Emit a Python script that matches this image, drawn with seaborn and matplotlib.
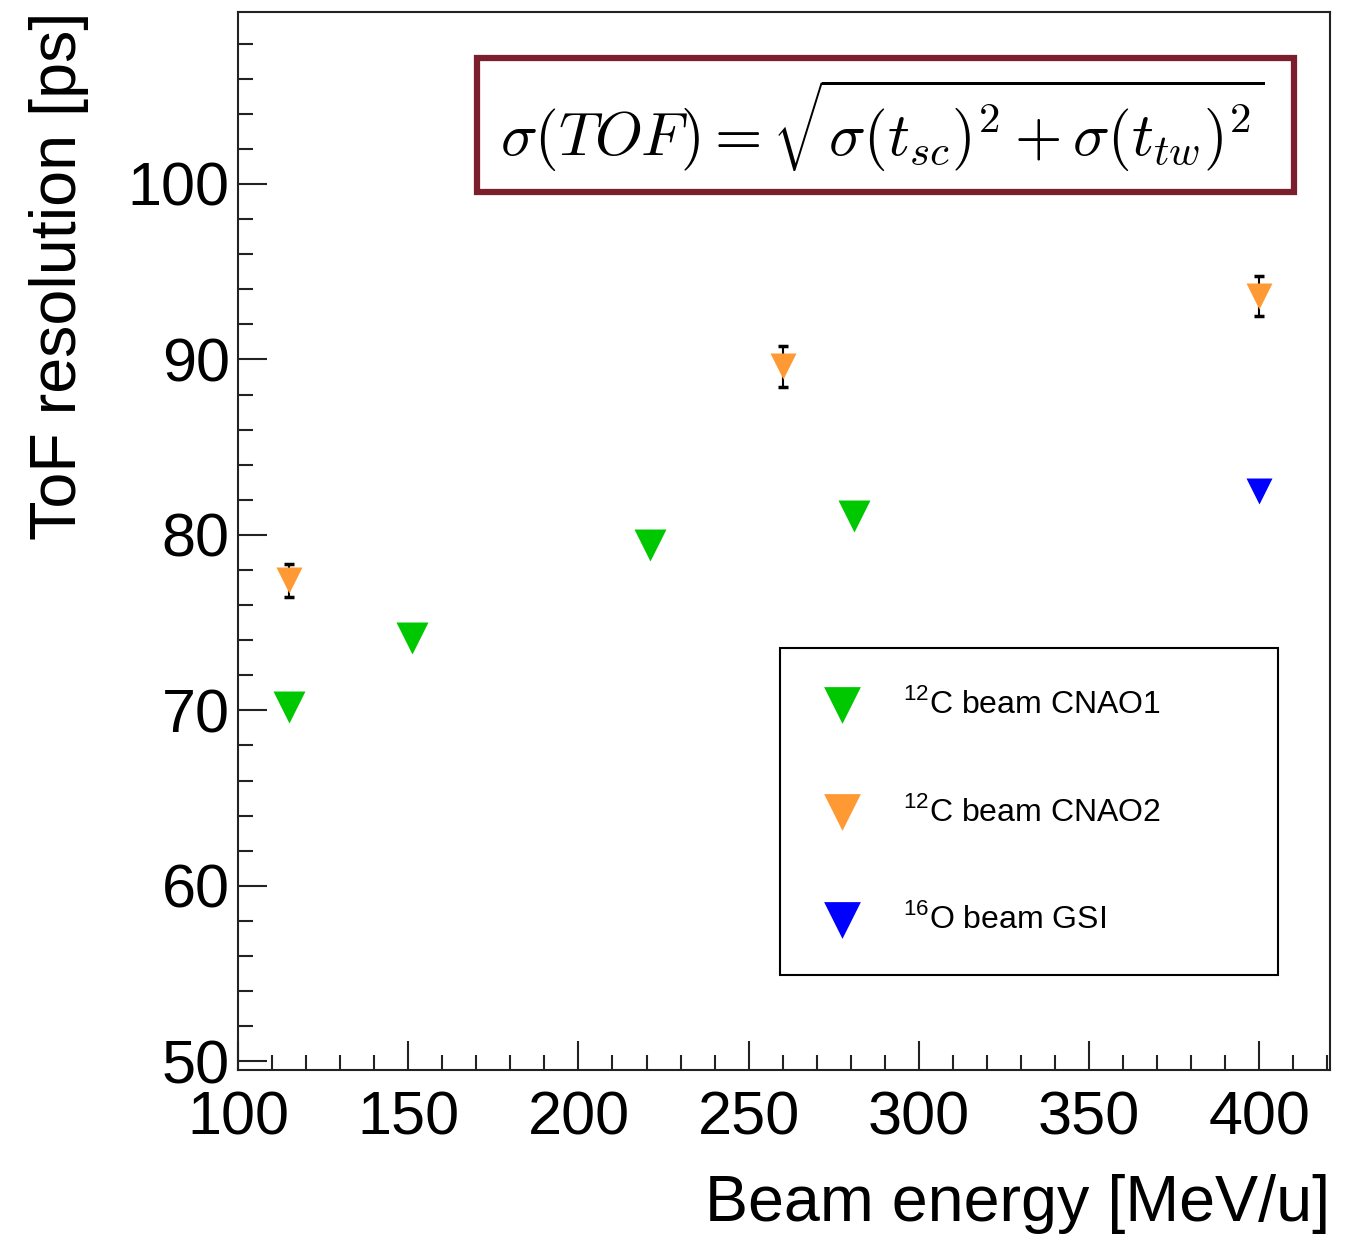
import numpy as np
import pandas as pd
import matplotlib
matplotlib.use("Agg")
import matplotlib.pyplot as plt
from matplotlib.patches import Rectangle
from matplotlib.ticker import MultipleLocator
import seaborn as sns

# 12C beam CNAO1
energy_cnao1 = [115, 151, 221, 281]
tof_cnao1 = [70.2, 74.1, 79.4, 81.1]

# 12C beam CNAO2 (with error bars)
energy_cnao2 = [115, 260, 400]
tof_cnao2 = [77.4, 89.6, 93.6]
err_cnao2 = [0.95, 1.15, 1.15]

# 16O beam GSI
energy_gsi = [400]
tof_gsi = [82.5]

labels = [r"$^{\mathregular{12}}$C beam CNAO1",
          r"$^{\mathregular{12}}$C beam CNAO2",
          r"$^{\mathregular{16}}$O beam GSI"]
colors = ["#00c800", "#ff9933", "#0000ff"]

df = pd.concat([
    pd.DataFrame({"energy": energy_cnao1, "tof": tof_cnao1, "beam": labels[0]}),
    pd.DataFrame({"energy": energy_cnao2, "tof": tof_cnao2, "beam": labels[1]}),
    pd.DataFrame({"energy": energy_gsi, "tof": tof_gsi, "beam": labels[2]}),
], ignore_index=True)

sns.set_style("ticks")
plt.rcParams["font.family"] = ["Liberation Sans", "DejaVu Sans"]
plt.rcParams["text.color"] = "black"
plt.rcParams["axes.labelcolor"] = "black"
plt.rcParams["xtick.color"] = "black"
plt.rcParams["ytick.color"] = "black"

fig = plt.figure(figsize=(13.51, 12.39), dpi=100)
ax = fig.add_axes([0.1762, 0.1364, 0.8083, 0.8539])

# error bars under the orange markers
ax.errorbar(energy_cnao2, tof_cnao2, yerr=err_cnao2, fmt="none", ecolor="black",
            elinewidth=1.5, capsize=3.3, capthick=2.5, zorder=2)

sizes = [530, 350, 350]
for lab, col, s in zip(labels, colors, sizes):
    sns.scatterplot(data=df[df["beam"] == lab], x="energy", y="tof", ax=ax,
                    marker="v", s=s, color=col, linewidth=0, label=lab, zorder=3)

ax.set_xlim(100, 420.8)
ax.set_ylim(49.5, 109.8)
ax.set_xticks(np.arange(100, 401, 50))
ax.set_yticks(np.arange(50, 101, 10))
ax.xaxis.set_minor_locator(MultipleLocator(10))
ax.yaxis.set_minor_locator(MultipleLocator(2))
ax.tick_params(which="both", direction="in", top=False, right=False,
               width=1.5, color="#222222", labelsize=44)
ax.tick_params(which="major", length=21)
ax.tick_params(which="minor", length=11)
ax.tick_params(axis="y", which="major", pad=6)
ax.tick_params(axis="x", which="major", pad=15)
for sp in ax.spines.values():
    sp.set_linewidth(1.5)
    sp.set_color("#222222")

ax.set_xlabel("Beam energy [MeV/u]", fontsize=46.5, loc="right", labelpad=19)
ax.set_ylabel("ToF resolution [ps]", fontsize=46.5, loc="top", labelpad=28)

# formula box
ax.add_patch(Rectangle((0.2189, 0.8299), 0.7481, 0.1266, transform=ax.transAxes,
                       fill=False, edgecolor="#7b1f2e", linewidth=4.5, zorder=5))
ax.text(0.5897, 0.893, r"$\sigma(TOF) = \sqrt{\sigma(t_{sc})^2 + \sigma(t_{tw})^2}$",
        transform=ax.transAxes, ha="center", va="center", fontsize=44,
        math_fontfamily="cm", zorder=6)

handles, labs = ax.get_legend_handles_labels()
leg = ax.legend(handles, labs, loc="upper left",
                bbox_to_anchor=(0.4963, 0.0926, 0.456, 0.306), mode="expand",
                frameon=True, fancybox=False, edgecolor="black", framealpha=1,
                fontsize=23, borderpad=1.25, handlelength=1.4, handletextpad=1.2,
                labelspacing=2.36, scatterpoints=1, borderaxespad=0)
leg.get_frame().set_linewidth(1.5)
for h in leg.legend_handles:
    h.set_sizes([700])

fig.savefig("out.png", dpi=100)
